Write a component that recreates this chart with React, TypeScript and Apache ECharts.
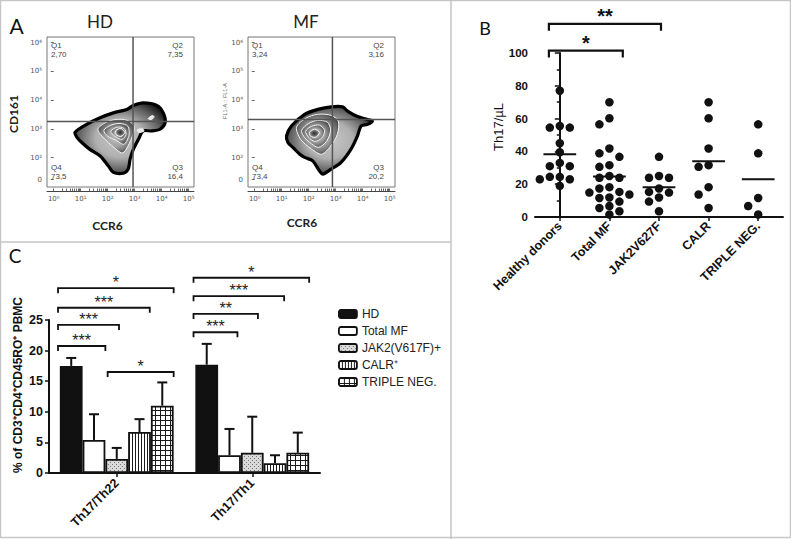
import React, { useEffect, useRef } from "react";
import * as echarts from "echarts";

// ===== Panel A – flow cytometry (coordinates in log10 decades: [CCR6, CD161]) =====
const flowTitles = ["HD", "MF"];
const flowQuadrantNames = ["Q1", "Q2", "Q4", "Q3"];
const hdQuadrantValues = ["2,70", "7,35", "73,5", "16,4"];
const mfQuadrantValues = ["3,24", "3,16", "73,4", "20,2"];
const hdGate = [2.94, 3.26];
const mfGate = [2.88, 3.33];
const flowXTickValues = [0, 1, 2, 3, 4, 5];
const flowXTickLabels = ["10⁰", "10¹", "10²", "10³", "10⁴", "10⁵"];
const flowYTickValues = [1.24, 2, 3, 4, 5, 6];
const flowYTickLabels = ["0", "10²", "10³", "10⁴", "10⁵", "10⁶"];

const hdOuter = [
  [0.79, 2.88], [1.22, 3.16], [1.72, 3.39], [2.21, 3.56], [2.71, 3.68], [2.95, 3.82],
  [3.32, 3.91], [3.82, 3.82], [4.06, 3.56], [4.13, 3.22], [3.94, 2.99], [3.63, 2.93],
  [3.32, 2.93], [3.14, 2.64], [2.95, 2.29], [2.83, 1.95], [2.76, 1.6], [2.58, 1.46],
  [2.21, 1.49], [2.02, 1.72], [1.72, 2.06], [1.34, 2.29], [1.04, 2.53], [0.87, 2.7],
];
const hdRings = [
  [[1.64, 2.99], [1.94, 3.23], [2.31, 3.33], [2.72, 3.3], [2.98, 3.09], [2.9, 2.71], [2.68, 2.29], [2.53, 2.16], [2.23, 2.36], [1.86, 2.68]],
  [[1.86, 2.95], [2.12, 3.13], [2.46, 3.19], [2.75, 3.09], [2.79, 2.78], [2.6, 2.47], [2.31, 2.61], [2.01, 2.74]],
  [[2.12, 2.92], [2.35, 3.06], [2.6, 3.02], [2.68, 2.81], [2.53, 2.64], [2.27, 2.74]],
  [[2.31, 2.95], [2.49, 3.02], [2.64, 2.88], [2.49, 2.74], [2.31, 2.81]],
];
const hdSpots = [
  [[3.1, 2.97], [3.3, 3.0], [3.34, 2.92], [3.15, 2.88]],
  [[3.5, 3.36], [3.66, 3.47], [3.72, 3.42], [3.6, 3.32]],
];
const mfOuter = [
  [1.18, 2.76], [1.36, 3.1], [1.85, 3.51], [2.34, 3.68], [2.83, 3.77], [3.26, 3.77],
  [3.44, 3.62], [3.81, 3.43], [4.18, 3.33], [4.36, 3.27], [4.18, 3.16], [3.94, 3.1],
  [3.81, 2.76], [3.57, 2.3], [3.2, 1.84], [2.83, 1.6], [2.52, 1.43], [2.4, 1.54],
  [2.15, 1.89], [1.85, 2.01], [1.67, 2.12], [1.42, 2.35], [1.23, 2.53],
];
const mfRings = [
  [[1.55, 3.06], [1.89, 3.37], [2.33, 3.51], [2.84, 3.47], [3.1, 3.26], [3.06, 2.81], [2.81, 2.4], [2.48, 2.12], [2.11, 2.3], [1.7, 2.64]],
  [[1.74, 2.95], [2.0, 3.19], [2.33, 3.3], [2.7, 3.23], [2.81, 2.95], [2.66, 2.57], [2.36, 2.36], [2.03, 2.54], [1.81, 2.75]],
  [[1.89, 2.92], [2.11, 3.09], [2.4, 3.13], [2.59, 2.95], [2.48, 2.68], [2.22, 2.57], [2.0, 2.71]],
  [[2.03, 2.88], [2.22, 2.99], [2.4, 2.88], [2.25, 2.71], [2.07, 2.75]],
];
const mfSpots: number[][][] = [];

// ===== Panel B – Th17 per µL =====
const bCategories = ["Healthy donors", "Total MF", "JAK2V627F", "CALR", "TRIPLE NEG."];
const hdValues = [77, 55.5, 54.5, 54.5, 45, 39.5, 33, 31, 31, 24.5, 24.5, 23, 23, 19];
const jak2Values = [36.7, 25, 23.9, 23.9, 17.4, 15.3, 14.9, 11.9, 9.4, 3.5];
const calrValues = [70, 60.2, 41.8, 31.6, 30.6, 18.2, 13.7, 5.5];
const tripleNegValues = [56.5, 38.8, 11.6, 6.7, 1.5];
const totalMFValues = [...jak2Values, ...calrValues, ...tripleNegValues];
const bTicks = [0, 20, 40, 60, 80, 100];
// significance brackets: [from x (category units), to x, level (Th17/µL)]
const bBrackets = [
  [-0.22, 1.27, 101.5],
  [-0.22, 2.04, 117.8],
];
const bBracketLabels = ["*", "**"];

// ===== Panel C – % of CD3+CD4+CD45RO+ PBMC =====
const cCategories = ["Th17/Th22", "Th17/Th1"];
const cSeriesNames = ["HD", "Total MF", "JAK2(V617F)+", "CALR⁺", "TRIPLE NEG."];
const cHD = [17.5, 17.7];
const cTotalMF = [5.4, 2.9];
const cJak2 = [2.3, 3.3];
const cCalr = [6.7, 1.6];
const cTripleNeg = [11.0, 3.3];
const cHDErr = [18.8, 21.1];
const cTotalMFErr = [9.6, 7.2];
const cJak2Err = [4.1, 9.2];
const cCalrErr = [8.8, 2.9];
const cTripleNegErr = [14.8, 6.6];
// brackets: [category, from bar position, to bar position, level]
const cBrackets = [
  [0, -0.08, 2.0, 20.75],
  [0, -0.08, 2.6, 24.2],
  [0, -0.08, 3.95, 27.0],
  [0, -0.08, 5.0, 30.2],
  [0, 2.1, 5.0, 16.5],
  [1, -0.08, 1.85, 23.0],
  [1, -0.08, 2.75, 26.0],
  [1, -0.08, 3.9, 28.9],
  [1, -0.08, 5.0, 31.9],
];
const cBracketLabels = ["***", "***", "***", "*", "*", "***", "**", "***", "*"];

// ---------------- layout / style ----------------
const SANS = "Liberation Sans";
const TITLE = "Lato";
const B_GRID = { left: 535, top: 53, width: 248, height: 164 };
const C_GRID = { left: 49, top: 320, width: 271, height: 153 };
const C_GAP = 0.16;
const DOT = 8.5;

function makePattern(kind: string) {
  const c = document.createElement("canvas");
  const size = kind === "dots" ? 4 : kind === "vlines" ? 3 : 5;
  c.width = size;
  c.height = size;
  const ctx = c.getContext("2d")!;
  if (kind === "dots") {
    ctx.fillStyle = "#d9d9d9";
    ctx.fillRect(0, 0, size, size);
    ctx.fillStyle = "#7a7a7a";
    ctx.fillRect(0, 0, 1, 1);
    ctx.fillRect(2, 2, 1, 1);
  } else if (kind === "vlines") {
    ctx.fillStyle = "#ffffff";
    ctx.fillRect(0, 0, size, size);
    ctx.fillStyle = "#1a1a1a";
    ctx.fillRect(0, 0, 1, size);
  } else {
    ctx.fillStyle = "#ffffff";
    ctx.fillRect(0, 0, size, size);
    ctx.fillStyle = "#1a1a1a";
    ctx.fillRect(0, 0, 1, size);
    ctx.fillRect(0, 0, size, 1);
  }
  return { image: c, repeat: "repeat", imageWidth: size, imageHeight: size } as any;
}

// simple beeswarm: spread points of similar value into side columns
function swarm(values: number[], cat: number) {
  const pxPerUnit = B_GRID.height / 100;
  const step = 10 / (B_GRID.width / 5);
  const placed: { k: number; v: number }[] = [];
  const sorted = values.slice().sort((a, b) => b - a);
  return sorted.map((v) => {
    const cands = [0, -1, 1, -2, 2, -3, 3];
    const k =
      cands.find((kk) => placed.every((p) => p.k !== kk || Math.abs(p.v - v) * pxPerUnit >= DOT)) ?? 0;
    placed.push({ k, v });
    return [cat + k * step, v];
  });
}

const mean = (a: number[]) => a.reduce((s, x) => s + x, 0) / a.length;

function contourSeries(outer: number[][], rings: number[][][], spots: number[][][], idx: number) {
  const polys = [outer, ...rings, ...spots];
  return {
    type: "custom",
    xAxisIndex: idx,
    yAxisIndex: idx,
    silent: true,
    data: polys.map((p) => p[0]),
    renderItem: (params: any, api: any) => {
      const i = params.dataIndex;
      const pts = polys[i].map((p) => api.coord(p));
      const isOuter = i === 0;
      const isCore = i === rings.length;
      const isSpot = i > rings.length;
      const fill = isOuter
        ? new echarts.graphic.RadialGradient(0.5, 0.5, 0.6, [
            { offset: 0, color: "#c8c8c8" },
            { offset: 0.45, color: "#b0b0b0" },
            { offset: 0.78, color: "#5c5c5c" },
            { offset: 1, color: "#141414" },
          ])
        : isSpot
        ? "#e8e8e8"
        : isCore
        ? new echarts.graphic.RadialGradient(0.5, 0.5, 0.6, [
            { offset: 0, color: "#2a2a2a" },
            { offset: 0.6, color: "#7a7a7a" },
            { offset: 1, color: "#c4c4c4" },
          ])
        : new echarts.graphic.RadialGradient(0.5, 0.5, 0.6, [
            { offset: 0, color: "#c9c9c9" },
            { offset: 0.5, color: "#a2a2a2" },
            { offset: 1, color: "#3c3c3c" },
          ]);
      return {
        type: "polygon",
        shape: { points: pts, smooth: 0.3 },
        style: {
          fill,
          stroke: isOuter ? "#000" : "#f4f4f4",
          lineWidth: isOuter ? 3.2 : 1,
        },
      };
    },
  };
}

function gateSeries(gate: number[], quadrants: string[], idx: number) {
  return {
    type: "custom",
    xAxisIndex: idx,
    yAxisIndex: idx,
    silent: true,
    z: 5,
    data: [gate],
    renderItem: (params: any, api: any) => {
      const cs = params.coordSys;
      const p = api.coord([api.value(0), api.value(1)]);
      const ts = { fontSize: 8, fill: "#444", fontFamily: SANS, lineHeight: 9 };
      const txt = (q: number, x: number, y: number, align: string, va: string) => ({
        type: "text",
        x,
        y,
        style: { ...ts, text: flowQuadrantNames[q] + "\n" + quadrants[q], align, verticalAlign: va },
      });
      return {
        type: "group",
        children: [
          { type: "line", shape: { x1: p[0], y1: cs.y, x2: p[0], y2: cs.y + cs.height }, style: { stroke: "#555", lineWidth: 1.5 } },
          { type: "line", shape: { x1: cs.x, y1: p[1], x2: cs.x + cs.width, y2: p[1] }, style: { stroke: "#555", lineWidth: 1.5 } },
          txt(0, cs.x + 4, cs.y + 4, "left", "top"),
          txt(1, cs.x + cs.width - 11, cs.y + 4, "right", "top"),
          txt(2, cs.x + 4, cs.y + cs.height - 6, "left", "bottom"),
          txt(3, cs.x + cs.width - 11, cs.y + cs.height - 6, "right", "bottom"),
        ],
      };
    },
  };
}

function flowAxes(idx: number) {
  const minor: number[] = [];
  flowXTickValues.slice(0, -1).forEach((d) => {
    for (let m = 1; m <= 9; m++) minor.push(d + Math.log10(m));
  });
  minor.push(5);
  const xAxis = {
    type: "value",
    gridIndex: idx,
    min: -0.25,
    max: 5.2,
    offset: 4,
    splitLine: { show: false },
    axisLine: { show: true, lineStyle: { color: "#444", width: 1 } },
    axisTick: { show: true, customValues: minor, length: 2.5, inside: true, lineStyle: { color: "#444", width: 0.8 } },
    axisLabel: {
      customValues: flowXTickValues,
      formatter: (v: number) => flowXTickLabels[flowXTickValues.findIndex((t) => Math.abs(t - v) < 1e-6)] ?? "",
      fontSize: 7,
      color: "#555",
      margin: 4,
      fontFamily: "DejaVu Sans",
    },
  };
  const yAxis = {
    type: "value",
    gridIndex: idx,
    min: 0.98,
    max: 6.2,
    splitLine: { show: false },
    axisLine: { show: false },
    axisTick: { show: true, customValues: flowYTickValues, length: 3, lineStyle: { color: "#444", width: 0.8 } },
    axisLabel: {
      customValues: flowYTickValues,
      formatter: (v: number) => flowYTickLabels[flowYTickValues.findIndex((t) => Math.abs(t - v) < 1e-6)] ?? "",
      fontSize: 7,
      color: "#555",
      margin: 5,
      fontFamily: "DejaVu Sans",
    },
  };
  return { xAxis, yAxis };
}

function buildOption() {
  const fa = flowAxes(0);
  const fb = flowAxes(1);
  const bGroups = [hdValues, totalMFValues, jak2Values, calrValues, tripleNegValues];
  const scatterData = bGroups.flatMap((g, i) => swarm(g, i));
  const meanData = bGroups.map((g, i) => [i, mean(g)]);

  const cMeans = [cHD, cTotalMF, cJak2, cCalr, cTripleNeg];
  const cErrs = [cHDErr, cTotalMFErr, cJak2Err, cCalrErr, cTripleNegErr];
  const cColors: any[] = ["#111111", "#ffffff", makePattern("dots"), makePattern("vlines"), makePattern("grid")];
  const errData: number[][] = [];
  cMeans.forEach((m, s) => m.forEach((v, c) => errData.push([c, s, v, cErrs[s][c]])));

  const axisLineStyle = { color: "#111", width: 2 };
  const boldLabel = { fontFamily: SANS, fontWeight: "bold", color: "#111" };

  const barSeries = cSeriesNames.map((name, s) => ({
    type: "bar",
    name,
    xAxisIndex: 4,
    yAxisIndex: 3,
    data: cMeans[s],
    barGap: "0%",
    barCategoryGap: C_GAP * 100 + "%",
    itemStyle: { color: cColors[s], borderColor: "#111", borderWidth: 1.8 },
    z: 2,
  }));

  return {
    animation: false,
    backgroundColor: "#ffffff",
    textStyle: { fontFamily: SANS },
    legend: {
      show: true,
      data: cSeriesNames,
      orient: "vertical",
      left: 333,
      top: 303,
      itemWidth: 18,
      itemHeight: 8,
      itemGap: 5,
      icon: "roundRect",
      selectedMode: false,
      textStyle: { fontFamily: SANS, fontSize: 12, color: "#222" },
      itemStyle: { borderColor: "#111", borderWidth: 1.8 },
    },
    grid: [
      { left: 47, top: 37, width: 147, height: 150, show: true, borderColor: "#777", borderWidth: 1, outerBoundsMode: "none" },
      { left: 248, top: 37, width: 147, height: 150, show: true, borderColor: "#777", borderWidth: 1, outerBoundsMode: "none" },
      { ...B_GRID, outerBoundsMode: "none" },
      { ...C_GRID, outerBoundsMode: "none" },
    ],
    xAxis: [
      fa.xAxis,
      fb.xAxis,
      {
        type: "category",
        gridIndex: 2,
        data: bCategories,
        boundaryGap: true,
        axisLine: { show: true, lineStyle: axisLineStyle },
        axisTick: { show: true, alignWithLabel: true, length: 4, lineStyle: { color: "#111", width: 1.5 } },
        axisLabel: { ...boldLabel, fontSize: 12.5, rotate: 45, interval: 0, margin: 7 },
        splitLine: { show: false },
      },
      { type: "value", gridIndex: 2, min: -0.5, max: 4.5, show: false, splitLine: { show: false } },
      {
        type: "category",
        gridIndex: 3,
        data: cCategories,
        boundaryGap: true,
        axisLine: { show: true, lineStyle: axisLineStyle },
        axisTick: { show: true, alignWithLabel: true, length: 4, lineStyle: { color: "#111", width: 1.5 } },
        axisLabel: { ...boldLabel, fontSize: 12.5, rotate: 45, interval: 0, margin: 8 },
        splitLine: { show: false },
      },
    ],
    yAxis: [
      fa.yAxis,
      fb.yAxis,
      {
        type: "value",
        gridIndex: 2,
        min: 0,
        max: 100,
        interval: 20,
        axisLine: { show: true, lineStyle: axisLineStyle },
        axisTick: { show: true, length: 5, lineStyle: { color: "#111", width: 1.5 } },
        minorTick: { show: true, splitNumber: 2, length: 3, lineStyle: { color: "#111", width: 1.5 } },
        axisLabel: { ...boldLabel, fontSize: 11.5, margin: 7, customValues: bTicks },
        splitLine: { show: false },
        minorSplitLine: { show: false },
      },
      {
        type: "value",
        gridIndex: 3,
        min: 0,
        max: 25,
        interval: 5,
        axisLine: { show: true, lineStyle: axisLineStyle },
        axisTick: { show: true, length: 4, lineStyle: { color: "#111", width: 1.5 } },
        axisLabel: { ...boldLabel, fontSize: 12.5, margin: 6 },
        splitLine: { show: false },
      },
    ],
    series: [
      contourSeries(hdOuter, hdRings, hdSpots, 0),
      gateSeries(hdGate, hdQuadrantValues, 0),
      contourSeries(mfOuter, mfRings, mfSpots, 1),
      gateSeries(mfGate, mfQuadrantValues, 1),
      {
        type: "custom",
        name: "means",
        xAxisIndex: 3,
        yAxisIndex: 2,
        silent: true,
        data: meanData,
        renderItem: (params: any, api: any) => {
          const c = api.coord([api.value(0), api.value(1)]);
          const half = api.size([0.33, 0])[0];
          return {
            type: "line",
            shape: { x1: c[0] - half, y1: c[1], x2: c[0] + half, y2: c[1] },
            style: { stroke: "#111", lineWidth: 2 },
          };
        },
        z: 3,
      },
      {
        type: "scatter",
        name: "Th17",
        xAxisIndex: 3,
        yAxisIndex: 2,
        symbol: "circle",
        symbolSize: DOT,
        data: scatterData,
        itemStyle: { color: "#111", opacity: 1 },
        z: 4,
      },
      {
        type: "custom",
        name: "bBrackets",
        xAxisIndex: 3,
        yAxisIndex: 2,
        silent: true,
        clip: false,
        data: bBrackets,
        renderItem: (params: any, api: any) => {
          const a = api.coord([api.value(0), api.value(2)]);
          const b = api.coord([api.value(1), api.value(2)]);
          return {
            type: "group",
            children: [
              {
                type: "polyline",
                shape: { points: [[a[0], a[1] + 7], [a[0], a[1]], [b[0], a[1]], [b[0], a[1] + 7]] },
                style: { stroke: "#111", lineWidth: 2.2, fill: "none" },
              },
              {
                type: "text",
                x: (a[0] + b[0]) / 2,
                y: a[1] - 8,
                style: { text: bBracketLabels[params.dataIndex], fontSize: 20, fontWeight: "bold", fontFamily: SANS, fill: "#111", align: "center", verticalAlign: "middle" },
              },
            ],
          };
        },
      },
      ...barSeries,
      {
        type: "custom",
        name: "errors",
        xAxisIndex: 4,
        yAxisIndex: 3,
        silent: true,
        clip: false,
        z: 3,
        data: errData,
        renderItem: (params: any, api: any) => {
          const c = api.value(0);
          const s = api.value(1);
          const base = api.coord([c, api.value(2)]);
          const top = api.coord([c, api.value(3)]);
          const band = api.size([1, 0])[0];
          const barW = (band * (1 - C_GAP)) / 5;
          const x = base[0] + (s - 2) * barW;
          return {
            type: "group",
            children: [
              { type: "line", shape: { x1: x, y1: base[1], x2: x, y2: top[1] }, style: { stroke: "#111", lineWidth: 2 } },
              { type: "line", shape: { x1: x - 5, y1: top[1], x2: x + 5, y2: top[1] }, style: { stroke: "#111", lineWidth: 2 } },
            ],
          };
        },
      },
      {
        type: "custom",
        name: "cBrackets",
        xAxisIndex: 4,
        yAxisIndex: 3,
        silent: true,
        clip: false,
        z: 3,
        data: cBrackets,
        renderItem: (params: any, api: any) => {
          const g = api.value(0);
          const p = api.coord([g, api.value(3)]);
          const band = api.size([1, 0])[0];
          const barW = (band * (1 - C_GAP)) / 5;
          const x0 = p[0] + (api.value(1) - 2.5) * barW;
          const x1 = p[0] + (api.value(2) - 2.5) * barW;
          const y = p[1];
          return {
            type: "group",
            children: [
              {
                type: "polyline",
                shape: { points: [[x0, y + 5], [x0, y], [x1, y], [x1, y + 5]] },
                style: { stroke: "#111", lineWidth: 1.8, fill: "none" },
              },
              {
                type: "text",
                x: (x0 + x1) / 2,
                y: y - 5.5,
                style: { text: cBracketLabels[params.dataIndex], fontSize: 16, fontFamily: SANS, fill: "#222", align: "center", verticalAlign: "middle" },
              },
            ],
          };
        },
      },
    ],
    graphic: [
      { type: "rect", shape: { x: 0.5, y: 0.5, width: 790, height: 537 }, style: { stroke: "#c6c6c6", fill: "none", lineWidth: 1.5 }, silent: true },
      { type: "line", shape: { x1: 451, y1: 0, x2: 451, y2: 539 }, style: { stroke: "#c6c6c6", lineWidth: 1.5 }, silent: true },
      { type: "line", shape: { x1: 0, y1: 242, x2: 451, y2: 242 }, style: { stroke: "#c6c6c6", lineWidth: 1.5 }, silent: true },
      { type: "text", x: 16.5, y: 25.5, style: { text: "A", fontSize: 21, fontFamily: TITLE, fill: "#111", align: "center", verticalAlign: "middle" } },
      { type: "text", x: 485, y: 27.5, style: { text: "B", fontSize: 18, fontFamily: TITLE, fill: "#111", align: "center", verticalAlign: "middle" } },
      { type: "text", x: 15, y: 255, style: { text: "C", fontSize: 19, fontFamily: TITLE, fill: "#111", align: "center", verticalAlign: "middle" } },
      { type: "text", x: 100, y: 21, style: { text: flowTitles[0], fontSize: 17, fontFamily: TITLE, fill: "#222", align: "center", verticalAlign: "middle" } },
      { type: "text", x: 306, y: 21, style: { text: flowTitles[1], fontSize: 17, fontFamily: TITLE, fill: "#222", align: "center", verticalAlign: "middle" } },
      { type: "text", x: 13.5, y: 114, rotation: Math.PI / 2, style: { text: "CD161", fontSize: 12, fontWeight: "bold", fontFamily: TITLE, fill: "#222", align: "center", verticalAlign: "middle" } },
      { type: "text", x: 225, y: 101, rotation: Math.PI / 2, style: { text: "FL1-A :: FL1-A", fontSize: 5.5, fontFamily: SANS, fill: "#666", align: "center", verticalAlign: "middle" } },
      { type: "text", x: 107.5, y: 225, style: { text: "CCR6", fontSize: 12, fontWeight: "bold", fontFamily: TITLE, fill: "#222", align: "center", verticalAlign: "middle" } },
      { type: "text", x: 302, y: 222, style: { text: "CCR6", fontSize: 12, fontWeight: "bold", fontFamily: TITLE, fill: "#222", align: "center", verticalAlign: "middle" } },
      { type: "text", x: 498, y: 127, rotation: Math.PI / 2, style: { text: "Th17/µL", fontSize: 13, fontFamily: SANS, fill: "#111", align: "center", verticalAlign: "middle" } },
      { type: "text", x: 18, y: 385, rotation: Math.PI / 2, style: { text: "% of CD3⁺CD4⁺CD45RO⁺ PBMC", fontSize: 12, fontWeight: "bold", fontFamily: SANS, fill: "#111", align: "center", verticalAlign: "middle" } },
    ],
  };
}

export default function App() {
  const ref = useRef<HTMLDivElement>(null);
  useEffect(() => {
    if (!ref.current) return;
    const chart = echarts.init(ref.current, null, { renderer: "svg" });
    chart.setOption(buildOption() as any);
    return () => chart.dispose();
  }, []);
  return (
    <div
      ref={ref}
      style={{ position: "absolute", left: 0, top: 0, width: 791, height: 539, background: "#fff" }}
    />
  );
}
